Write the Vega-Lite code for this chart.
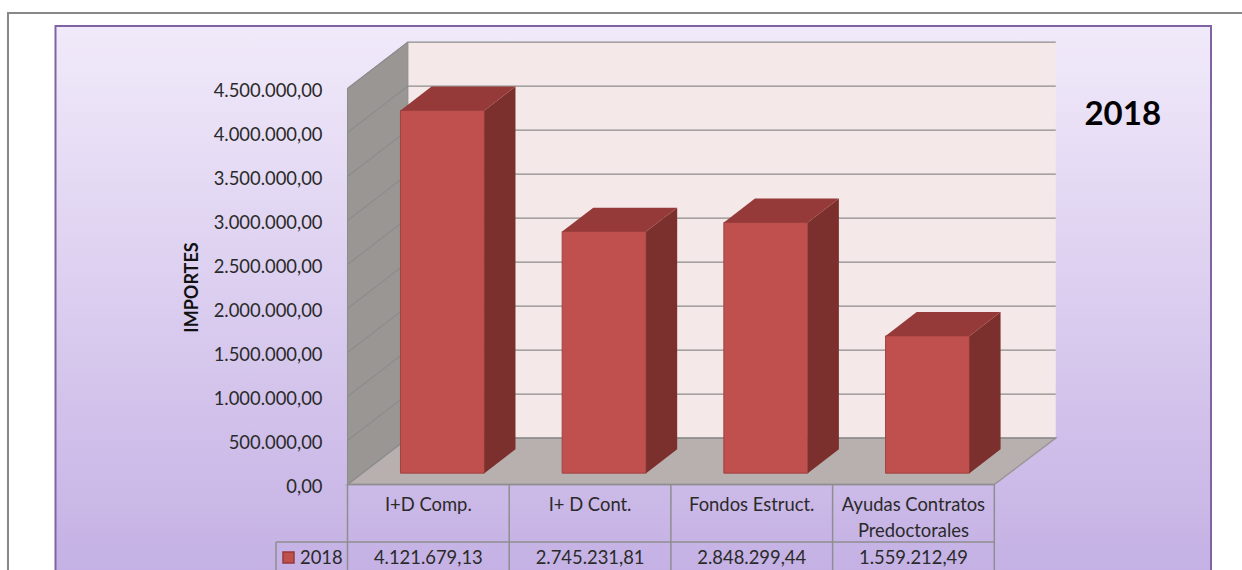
{
"$schema":"https://vega.github.io/schema/vega-lite/v6.json",
"width":1242,"height":570,"padding":0,"autosize":{"type":"none"},"background":"white",
"config":{"view":{"stroke":null},"font":"Lato","locale":{"number":{"decimal":",","thousands":".","grouping":[3],"currency":["","€"]}}},
"datasets":{
"importes":[
{"categoria":"I+D Comp.","serie":"2018","importe":4121679.13},
{"categoria":"I+ D Cont.","serie":"2018","importe":2745231.81},
{"categoria":"Fondos Estruct.","serie":"2018","importe":2848299.44},
{"categoria":"Ayudas Contratos\nPredoctorales","serie":"2018","importe":1559212.49}],
"marcas":[{"importe":0},{"importe":500000},{"importe":1000000},{"importe":1500000},{"importe":2000000},{"importe":2500000},{"importe":3000000},{"importe":3500000},{"importe":4000000},{"importe":4500000}],
"profundidad":[{"z":0},{"z":1}],
"columnas":[{"columna":0},{"columna":1},{"columna":2},{"columna":3},{"columna":4}],
"serie":[{"serie":"2018"}]
},
"data":{"name":"importes"},
"encoding":{
"x":{"field":"px","type":"quantitative","axis":null,"scale":{"domain":[-2.149,5.5318],"nice":false,"zero":false}},
"y":{"field":"py","type":"quantitative","scale":{"domain":[-971591,5505682],"nice":false,"zero":false},
"axis":{"zindex":1,"offset":-347,"domain":false,"ticks":false,"grid":false,"values":[0,500000,1000000,1500000,2000000,2500000,3000000,3500000,4000000,4500000],"format":",.2f","labelFont":"Lato","labelFontSize":18.4,"labelColor":"#2a2a2a","labelPadding":25,"labelOffset":1.5,"title":"IMPORTES","titleFont":"Lato","titleFontSize":18,"titleFontWeight":"bold","titleColor":"#111111","titleX":-146,"titleY":287,"titleAnchor":"middle"}}
},
"layer":[
{"data":{"name":"serie"},"transform":[{"calculate":"-2.0996","as":"px"},{"calculate":"5.6","as":"px2"},{"calculate":"5357955","as":"py"},{"calculate":"-1200000","as":"py2"}],
"mark":{"type":"rect","fill":"white","stroke":"#888888","strokeWidth":2,"clip":true},
"encoding":{"x2":{"field":"px2"},"y2":{"field":"py2"}}},
{"data":{"name":"serie"},"transform":[{"calculate":"-1.8058","as":"px"},{"calculate":"5.3401","as":"px2"},{"calculate":"5210227","as":"py"},{"calculate":"-1085000","as":"py2"}],
"mark":{"type":"rect","clip":true,"stroke":"#8064A2","strokeWidth":2,"fill":{"gradient":"linear","x1":0,"y1":0,"x2":0,"y2":1,"stops":[{"offset":0,"color":"#F1EAFA"},{"offset":1,"color":"#C4B0E4"}]}},
"encoding":{"x2":{"field":"px2"},"y2":{"field":"py2"}}},
{"data":{"name":"serie"},"transform":[{"calculate":"0.3735","as":"px"},{"calculate":"4.38","as":"px2"},{"calculate":"5027273","as":"py"},{"calculate":"527273","as":"py2"}],
"mark":{"type":"rect","fill":"#F4E8E8"},
"encoding":{"x2":{"field":"px2"},"y2":{"field":"py2"}}},
{"data":{"name":"profundidad"},
"transform":[{"calculate":"datum.z*0.3735","as":"px"},{"calculate":"4500000+datum.z*527273","as":"py"},{"calculate":"datum.z*527273","as":"py2"}],
"mark":{"type":"area","fill":"#9A9693","stroke":"#8C8C8C","strokeWidth":1,"orient":"vertical"},
"encoding":{"y2":{"field":"py2"}}},
{"data":{"name":"profundidad"},
"transform":[{"calculate":"datum.z*0.3735","as":"px"},{"calculate":"4+datum.z*0.38","as":"px2"},{"calculate":"datum.z*527273","as":"py"}],
"mark":{"type":"area","fill":"#B8B0AE","stroke":"#969696","strokeWidth":1.5,"orient":"horizontal"},
"encoding":{"x2":{"field":"px2"}}},
{"data":{"name":"marcas"},
"transform":[{"calculate":"[0,1,2]","as":"t"},{"flatten":["t"]},{"calculate":"[0,0.3735,4.38][datum.t]","as":"px"},{"calculate":"datum.importe+(datum.t>0?527273:0)","as":"py"}],
"mark":{"type":"line","stroke":"#8C8C8C","strokeWidth":1.2},
"encoding":{"detail":{"field":"importe","type":"quantitative"}}},
{"transform":[{"window":[{"op":"row_number","as":"n"}]},{"calculate":"datum.n-1+0.3275","as":"px"},{"calculate":"datum.n-1+0.8465","as":"px2"},{"calculate":"datum.importe+129182","as":"py"},{"calculate":"129182","as":"py2"}],
"mark":{"type":"rect","fill":"#C0504D","stroke":"#A04240","strokeWidth":1},
"encoding":{"x2":{"field":"px2"},"y2":{"field":"py2"}}},
{"transform":[{"window":[{"op":"row_number","as":"n"}]},{"calculate":"[0.245,0.76]","as":"z"},{"flatten":["z"]},{"calculate":"datum.n-1+0.755+datum.z*0.3735","as":"px"},{"calculate":"datum.importe+datum.z*527273","as":"py"},{"calculate":"datum.z*527273","as":"py2"}],
"mark":{"type":"area","fill":"#7C302E","orient":"vertical"},
"encoding":{"y2":{"field":"py2"},"detail":{"field":"categoria"}}},
{"transform":[{"window":[{"op":"row_number","as":"n"}]},{"calculate":"[0.245,0.76]","as":"z"},{"flatten":["z"]},{"calculate":"datum.n-1+0.236+datum.z*0.3735","as":"px"},{"calculate":"datum.n-1+0.755+datum.z*0.3735","as":"px2"},{"calculate":"datum.importe+datum.z*527273","as":"py"}],
"mark":{"type":"area","fill":"#953A38","orient":"horizontal"},
"encoding":{"x2":{"field":"px2"},"detail":{"field":"categoria"}}},
{"data":{"name":"columnas"},"transform":[{"calculate":"datum.columna","as":"px"},{"calculate":"0","as":"py"},{"calculate":"-971591","as":"py2"}],
"mark":{"type":"rule","stroke":"#8E8E8E","strokeWidth":1.5},
"encoding":{"y2":{"field":"py2"}}},
{"data":{"name":"serie"},"transform":[{"calculate":"-0.4422","as":"px"},{"calculate":"-653400","as":"py"},{"calculate":"-971591","as":"py2"}],
"mark":{"type":"rule","stroke":"#8E8E8E","strokeWidth":1.5},
"encoding":{"y2":{"field":"py2"}}},
{"data":{"name":"serie"},"transform":[{"calculate":"-0.4422","as":"px"},{"calculate":"4","as":"px2"},{"calculate":"-653400","as":"py"}],
"mark":{"type":"rule","stroke":"#8E8E8E","strokeWidth":1.5},
"encoding":{"x2":{"field":"px2"}}},
{"data":{"name":"serie"},"transform":[{"calculate":"0","as":"px"},{"calculate":"4","as":"px2"},{"calculate":"0","as":"py"}],
"mark":{"type":"rule","stroke":"#8E8E8E","strokeWidth":1.5},
"encoding":{"x2":{"field":"px2"}}},
{"transform":[{"window":[{"op":"row_number","as":"n"}]},{"calculate":"datum.n-0.5","as":"px"},{"calculate":"-301136","as":"py"}],
"mark":{"type":"text","font":"Lato","fontSize":18.4,"color":"#2a2a2a","align":"center","baseline":"alphabetic","lineBreak":"\n","lineHeight":26},
"encoding":{"text":{"field":"categoria"}}},
{"transform":[{"window":[{"op":"row_number","as":"n"}]},{"calculate":"datum.n-0.5","as":"px"},{"calculate":"-903400","as":"py"}],
"mark":{"type":"text","font":"Lato","fontSize":18.4,"color":"#2a2a2a","align":"center","baseline":"alphabetic"},
"encoding":{"text":{"field":"importe","type":"quantitative","format":",.2f"}}},
{"data":{"name":"serie"},"transform":[{"calculate":"-0.3649","as":"px"},{"calculate":"-829500","as":"py"}],
"mark":{"type":"point","shape":"square","filled":true,"size":120,"fill":"#C0504D","stroke":"#953A38","strokeWidth":1.5,"opacity":1}},
{"data":{"name":"serie"},"transform":[{"calculate":"-0.2938","as":"px"},{"calculate":"-903400","as":"py"}],
"mark":{"type":"text","font":"Lato","fontSize":18.4,"color":"#2a2a2a","align":"left","baseline":"alphabetic"},
"encoding":{"text":{"field":"serie"}}},
{"data":{"name":"serie"},"transform":[{"calculate":"4.7944","as":"px"},{"calculate":"4198863","as":"py"}],
"mark":{"type":"text","font":"Lato","fontSize":33,"fontWeight":"bold","color":"#000000","align":"center","baseline":"middle"},
"encoding":{"text":{"field":"serie"}}}
]
}
